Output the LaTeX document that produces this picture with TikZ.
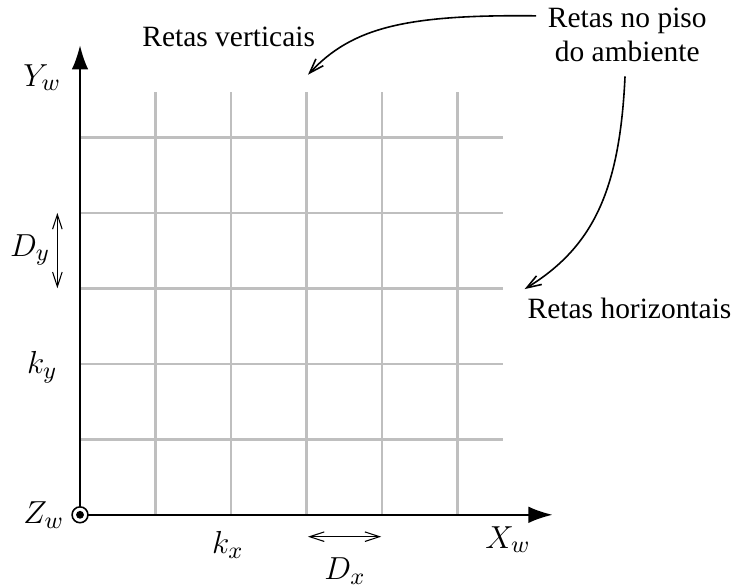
\documentclass[tikz,border=0pt]{standalone}
\usepackage{fontspec}
\setmainfont{Liberation Serif}
\usepackage{tikz}
\usetikzlibrary{arrows.meta,calc}

\begin{document}
\begin{tikzpicture}[font=\fontsize{11.1}{12.8}\selectfont,grade/.style={draw=gray!50,line width=0.9pt},eixo/.style={-{Latex[length=3.2mm,width=2.2mm]},line width=0.7pt},seta/.style={-{Straight Barb[length=5.5pt,width=3.8pt]},semithick},cota/.style={{Straight Barb[length=5.5pt,width=3.6pt]}-{Straight Barb[length=5.5pt,width=3.6pt]},thin},lbl/.style={inner sep=2pt,font=\fontsize{12.2}{14}\selectfont}]
\useasboundingbox (-1.06,-0.967) rectangle (8.73,6.82);
% grade do piso
\draw[grade] (1,0)--(1,5.6); \draw[grade] (2,0)--(2,5.6); \draw[grade] (3,0)--(3,5.6);
\draw[grade] (4,0)--(4,5.6); \draw[grade] (5,0)--(5,5.6);
\draw[grade] (0,1)--(5.6,1); \draw[grade] (0,2)--(5.6,2); \draw[grade] (0,3)--(5.6,3);
\draw[grade] (0,4)--(5.6,4); \draw[grade] (0,5)--(5.6,5);
% eixos
\coordinate (orig) at (0,0);
\coordinate (xfim) at (6.26,0);
\coordinate (yfim) at (0,6.22);
\draw[eixo] (orig)--(xfim);
\draw[eixo] (orig)--(yfim);
\draw[line width=0.6pt,fill=white] (orig) circle (0.105);
\fill (orig) circle (0.052);
\node[lbl] (xw) at (5.67,-0.33) {$X_w$};
\node[lbl] (yw) at (-0.5,5.79) {$Y_w$};
\node[lbl] (zw) at (-0.48,0) {$Z_w$};
\node[lbl] (kx) at (1.96,-0.4) {$k_x$};
\node[lbl] (ky) at (-0.5,1.95) {$k_y$};
% espacamentos
\coordinate (dxa) at (3.02,-0.29); \coordinate (dxb) at (3.99,-0.29);
\coordinate (dya) at (-0.30,3.0); \coordinate (dyb) at (-0.30,4.0);
\draw[cota] (dxa)--(dxb);
\draw[cota] (dya)--(dyb);
\node[lbl] (dx) at (3.51,-0.75) {$D_x$};
\node[lbl] (dy) at (-0.66,3.51) {$D_y$};
% legendas
\node[inner sep=2pt] (vert) at (1.97,6.33) {Retas verticais};
\node[inner sep=2pt,align=center] (piso) at (7.25,6.36) {Retas no piso\\do ambiente};
\node[inner sep=2pt] (horiz) at (7.28,2.74) {Retas horizontais};
\coordinate (vponta) at (3.02,5.83);
\coordinate (hponta) at (5.89,2.99);
\draw[seta] ($(piso.west)+(-0.08,0.25)$) .. controls (4.3,6.63) and (3.6,6.45) .. (vponta);
\draw[seta] ($(piso.south)+(-0.03,-0.12)$) .. controls (7.15,4.3) and (6.8,3.55) .. (hponta);
\end{tikzpicture}
\end{document}
